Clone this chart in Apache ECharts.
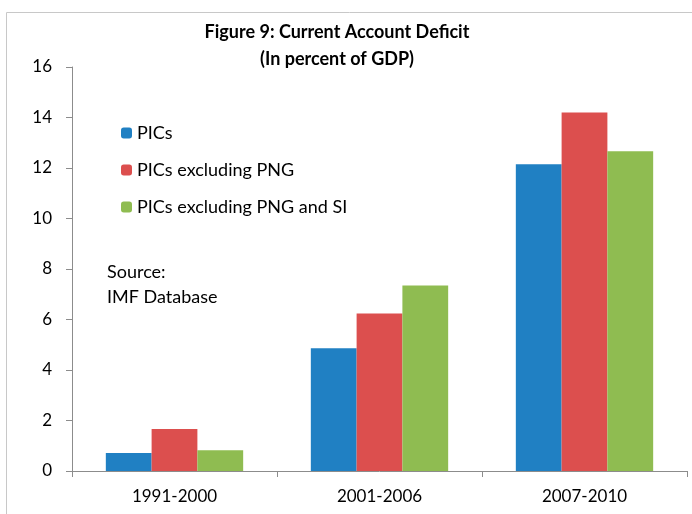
<!DOCTYPE html>
<html>
<head>
<meta charset="utf-8">
<script src="https://cdn.jsdelivr.net/npm/echarts@6/dist/echarts.min.js"></script>
<style>
  html, body { margin: 0; padding: 0; background: #fff; }
  #chart { width: 692px; height: 514px; }
</style>
</head>
<body>
<div id="chart"></div>
<script>
  // 数据
  var periods = ['1991-2000', '2001-2006', '2007-2010'];
  var seriesNames = ['PICs', 'PICs excluding PNG', 'PICs excluding PNG and SI'];
  var pics = [0.71, 4.86, 12.15];
  var picsExPng = [1.66, 6.24, 14.2];
  var picsExPngSi = [0.82, 7.35, 12.66];
  var colors = ['#2080C3', '#DC4F4E', '#8FBC51'];

  var font = 'Lato, "Open Sans", sans-serif';
  var chart = echarts.init(document.getElementById('chart'));

  chart.setOption({
    animation: false,
    color: colors,
    title: {
      text: 'Figure 9: Current Account Deficit\n(In percent of GDP)',
      left: 332,
      textAlign: 'center',
      top: 14,
      textStyle: { fontFamily: font, fontSize: 18, fontWeight: 'bold', color: '#000', lineHeight: 27 }
    },
    legend: {
      orient: 'vertical',
      left: 116,
      top: 119,
      itemWidth: 11,
      itemHeight: 11,
      itemGap: 19,
      data: seriesNames,
      textStyle: { fontFamily: font, fontSize: 18, color: '#000' }
    },
    graphic: [
      {
        type: 'rect',
        shape: { x: 6.5, y: 12.5, width: 700, height: 510 },
        style: { fill: 'none', stroke: '#c8c8c8', lineWidth: 1 },
        z: -1
      },
      {
        type: 'text',
        left: 107,
        top: 260,
        style: { text: 'Source:\nIMF Database', font: '18px ' + font, fill: '#000', lineHeight: 25 }
      }
    ],
    grid: { left: 72, right: 5, top: 67, bottom: 43 },
    xAxis: {
      type: 'category',
      data: periods,
      axisLine: { lineStyle: { color: '#8c8c8c' } },
      axisTick: { show: true, length: 6, lineStyle: { color: '#8c8c8c' } },
      axisLabel: { fontFamily: font, fontSize: 17, color: '#000', margin: 17 }
    },
    yAxis: {
      type: 'value',
      min: 0,
      max: 16,
      interval: 2,
      splitLine: { show: false },
      axisLine: { show: true, lineStyle: { color: '#8c8c8c' } },
      axisTick: { show: true, length: 6, lineStyle: { color: '#8c8c8c' } },
      axisLabel: { fontFamily: font, fontSize: 17, color: '#000', margin: 20 }
    },
    series: [
      { name: seriesNames[0], type: 'bar', data: pics, barGap: '0%', barCategoryGap: '33%' },
      { name: seriesNames[1], type: 'bar', data: picsExPng },
      { name: seriesNames[2], type: 'bar', data: picsExPngSi }
    ]
  });
</script>
</body>
</html>
